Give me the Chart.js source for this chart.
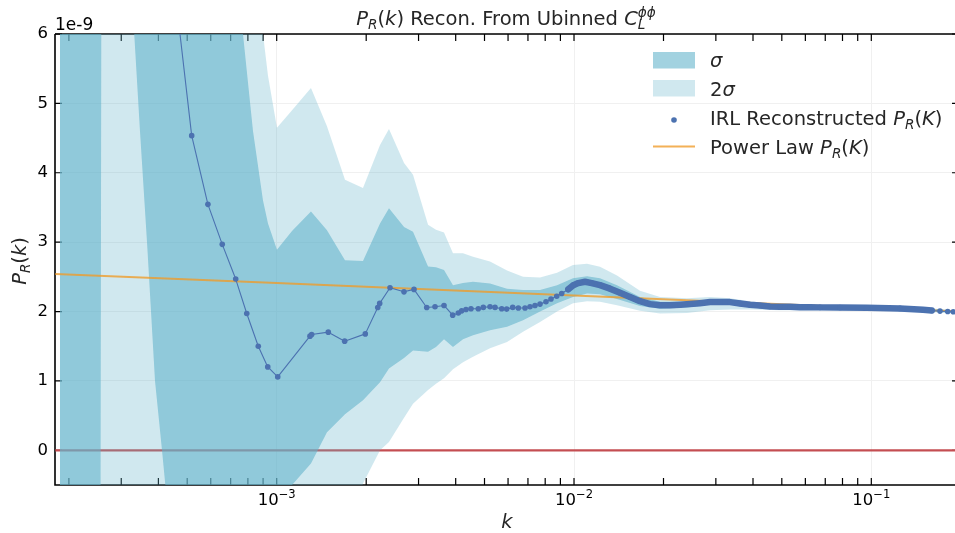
<!DOCTYPE html>
<html>
<head>
<meta charset="utf-8">
<script src="https://cdn.jsdelivr.net/npm/chart.js@4.4.0/dist/chart.umd.min.js"></script>
<style>
html,body{margin:0;padding:0;background:#fff;}
#wrap{width:955px;height:533px;}
</style>
</head>
<body>
<div id="wrap"><canvas id="Grafico1" width="955" height="533"></canvas></div>
<script>
// valores en unidades de 1e-9
const kRecon = [1.867e-4, 2.429e-4, 3.088e-4, 3.81e-4, 4.50e-4,
    5.177e-4, 5.87e-4, 6.56e-4, 7.28e-4, 7.93e-4, 8.67e-4, 9.33e-4, 1.008e-3,
    1.294e-3, 1.311e-3, 1.491e-3, 1.693e-3, 1.986e-3, 2.187e-3, 2.22e-3, 2.405e-3,
    2.68e-3, 2.896e-3, 3.196e-3, 3.408e-3, 3.654e-3, 3.908e-3, 4.082e-3, 4.19e-3,
    4.332e-3, 4.503e-3, 4.765e-3, 4.953e-3, 5.218e-3, 5.424e-3, 5.712e-3, 5.937e-3,
    6.22e-3, 6.497e-3, 6.843e-3, 7.112e-3, 7.393e-3, 7.687e-3, 8.05e-3, 8.368e-3,
    8.746e-3, 9.09e-3, 9.568e-3, 9.945e-3, 1.034e-2, 1.089e-2, 1.147e-2, 1.223e-2,
    1.322e-2, 1.428e-2, 1.543e-2, 1.667e-2, 1.801e-2, 1.947e-2, 2.103e-2, 2.273e-2,
    2.456e-2, 2.653e-2, 2.868e-2, 3.098e-2, 3.347e-2, 3.617e-2, 3.908e-2, 4.223e-2,
    4.563e-2, 4.93e-2, 5.33e-2, 5.757e-2, 6.22e-2, 6.722e-2, 7.85e-2, 9.65e-2,
    0.1249, 0.1493, 0.1597, 0.1702, 0.1807, 0.1887, 0.197];
const pRecon = [45, 30, 22, 14, 6.8,
    4.535, 3.545, 2.968, 2.468, 1.972, 1.50, 1.202, 1.058,
    1.645, 1.67, 1.703, 1.573, 1.678, 2.059, 2.117, 2.342,
    2.284, 2.319, 2.059, 2.068, 2.088, 1.948, 1.98, 2.01,
    2.03, 2.04, 2.04, 2.06, 2.068, 2.06, 2.04, 2.035,
    2.06, 2.05, 2.05, 2.068, 2.088, 2.107, 2.14, 2.18,
    2.22, 2.26, 2.32, 2.38, 2.41, 2.43, 2.41, 2.38,
    2.33, 2.27, 2.21, 2.15, 2.107, 2.09, 2.09, 2.097,
    2.107, 2.12, 2.136, 2.136, 2.136, 2.117, 2.097, 2.088,
    2.073, 2.068, 2.068, 2.063, 2.063, 2.06, 2.058, 2.054,
    2.045, 2.025, 2.016, 2.006, 2.0, 1.996, 1.99];

const kBand = [1.867e-4, 2.429e-4, 3.088e-4, 3.286e-4, 3.469e-4, 3.663e-4, 3.897e-4, 4.114e-4,
    4.376e-4, 5.109e-4, 5.965e-4, 6.966e-4, 7.701e-4, 8.325e-4, 8.993e-4, 9.348e-4,
    1.002e-3, 1.126e-3, 1.304e-3, 1.476e-3, 1.697e-3, 1.951e-3, 2.226e-3, 2.386e-3,
    2.681e-3, 2.874e-3, 3.229e-3, 3.434e-3, 3.654e-3, 3.917e-3, 4.233e-3, 4.574e-3,
    5.218e-3, 5.953e-3, 6.738e-3, 7.687e-3, 8.768e-3, 9.923e-3, 1.106e-2, 1.223e-2,
    1.395e-2, 1.667e-2, 1.947e-2, 2.399e-2, 2.868e-2, 3.347e-2, 4.0e-2, 4.93e-2,
    6.722e-2, 9.9e-2, 0.1249, 0.16, 0.1912];
const sig2Hi = [50, 60, 60, 60, 55, 50, 45, 40,
    35, 28, 22, 17, 13, 9.5, 6.0, 5.4,
    4.65, 4.9, 5.22, 4.67, 3.90, 3.78, 4.40, 4.63,
    4.14, 3.97, 3.25, 3.18, 3.14, 2.84, 2.84, 2.79,
    2.72, 2.59, 2.50, 2.49, 2.56, 2.67, 2.69, 2.645,
    2.52, 2.30, 2.21, 2.19, 2.21, 2.19, 2.14, 2.11,
    2.095, 2.085, 2.075, 2.045, 2.02];
const sig2Lo = [-50, -60, -60, -50, -45, -40, -35, -30,
    -25, -18, -14, -10, -8, -7, -6, -5.5,
    -5, -4, -3, -2.2, -1.4, -0.48, 0.0, 0.12,
    0.47, 0.67, 0.87, 0.96, 1.04, 1.17, 1.27, 1.35,
    1.47, 1.56, 1.71, 1.85, 2.0, 2.12, 2.15, 2.14,
    2.09, 2.01, 1.97, 1.98, 2.02, 2.03, 2.03, 2.02,
    2.02, 2.015, 2.005, 1.99, 1.97];
const sig1Hi = [80, 80, 300, 200, 150, 100, 60, 40,
    30, 18, 12, 8, 6.0, 4.6, 3.6, 3.27,
    2.89, 3.16, 3.44, 3.17, 2.74, 2.73, 3.27, 3.49,
    3.22, 3.15, 2.65, 2.64, 2.60, 2.38, 2.41, 2.43,
    2.405, 2.33, 2.31, 2.31, 2.38, 2.48, 2.51, 2.48,
    2.38, 2.21, 2.14, 2.14, 2.17, 2.17, 2.13, 2.095,
    2.085, 2.075, 2.065, 2.035, 2.01];
const sig1Lo = [-20, -60, 220, 6.3, 4.6, 3.0, 1.0, 0.0,
    -1.2, -4, -5, -5, -4.5, -4, -3.2, -2.8,
    -2.2, -0.5, -0.19, 0.26, 0.52, 0.72, 0.98, 1.18,
    1.33, 1.44, 1.42, 1.49, 1.60, 1.49, 1.60, 1.66,
    1.73, 1.78, 1.876, 2.0, 2.12, 2.21, 2.26, 2.25,
    2.18, 2.08, 2.04, 2.06, 2.10, 2.10, 2.07, 2.045,
    2.035, 2.03, 2.02, 2.0, 1.98];

const kPow = [1.8e-4, 1e-3, 1e-2, 1e-1, 0.2];
const pPow = [2.54, 2.41, 2.23, 2.05, 2.0];
const kCero = [1.8e-4, 0.2];
const pCero = [0, 0];

const xTicks = [1e-3, 1e-2, 1e-1];
const yTicks = [0, 1, 2, 3, 4, 5, 6];

const azul = '#4c72b0';
const naranja = 'rgba(240,155,40,0.78)';
const rojo = '#c44e52';
const banda1 = 'rgba(100,180,203,0.6)';
const banda2 = 'rgba(100,180,203,0.3)';
const fuente = '"DejaVu Sans"';

function puntos(ks, vs){
    return ks.map((k, i) => ({x: k, y: vs[i]}));
}

function textoRico(ctx, partes, x, y, tam, alinear, color){
    let piezas = partes.map(p => {
        const esc = (p.sub || p.sup) ? 0.7 : 1;
        const f = (p.i ? 'italic ' : '') + (tam * esc) + 'px ' + fuente;
        ctx.font = f;
        return {t: p.t, f: f, w: ctx.measureText(p.t).width, mismo: p.mismo,
            dy: p.sub ? tam * 0.22 : (p.sup ? -tam * 0.42 : 0)};
    });
    let pos = 0, inicio = 0;
    piezas.forEach(p => {
        if (p.mismo){ p.x = inicio; pos = Math.max(pos, inicio + p.w); }
        else { p.x = pos; inicio = pos; pos += p.w; }
    });
    let x0 = alinear === 'center' ? x - pos / 2 : (alinear === 'right' ? x - pos : x);
    ctx.fillStyle = color;
    ctx.textAlign = 'left';
    ctx.textBaseline = 'alphabetic';
    piezas.forEach(p => { ctx.font = p.f; ctx.fillText(p.t, x0 + p.x, y + p.dy); });
}

const ejes = {
    id: 'ejes',
    beforeDatasetsDraw(chart){
        const ctx = chart.ctx, ca = chart.chartArea;
        const sx = chart.scales.x, sy = chart.scales.y;
        ctx.save();
        ctx.strokeStyle = '#000';
        ctx.lineWidth = 1.6;
        ctx.beginPath();
        ctx.moveTo(ca.left, ca.top); ctx.lineTo(ca.left, ca.bottom);
        ctx.lineTo(ca.right, ca.bottom);
        ctx.moveTo(ca.left, ca.top); ctx.lineTo(ca.right, ca.top);
        ctx.stroke();
        ctx.lineWidth = 1.2;
        ctx.beginPath();
        for (let e = -4; e <= -1; e++){
            for (let m = 1; m <= 9; m++){
                const v = m * Math.pow(10, e);
                if (v < sx.min || v > sx.max) continue;
                const px = sx.getPixelForValue(v);
                ctx.moveTo(px, ca.bottom); ctx.lineTo(px, ca.bottom - 7);
                ctx.moveTo(px, ca.top); ctx.lineTo(px, ca.top + 7);
            }
        }
        yTicks.forEach(v => {
            const py = sy.getPixelForValue(v);
            ctx.moveTo(ca.left, py); ctx.lineTo(ca.left + 7, py);
            ctx.moveTo(ca.right, py); ctx.lineTo(ca.right - 3, py);
        });
        ctx.stroke();
        ctx.restore();
    },
    afterDraw(chart){
        const ctx = chart.ctx, ca = chart.chartArea;
        const sx = chart.scales.x;
        ctx.save();
        // etiquetas del eje x
        xTicks.forEach(v => {
            const e = Math.round(Math.log10(v));
            textoRico(ctx, [{t: '10'}, {t: '\u2212' + Math.abs(e), sup: true}],
                sx.getPixelForValue(v), 505, 16.5, 'center', '#000');
        });
        textoRico(ctx, [{t: '1e-9'}], ca.left, 30, 17, 'left', '#000');
        textoRico(ctx, [{t: 'P', i: true}, {t: 'R', i: true, sub: true}, {t: '('}, {t: 'k', i: true}, {t: ')'},
            {t: ' Recon. From Ubinned '}, {t: 'C', i: true}, {t: 'L', i: true, sub: true},
            {t: '\u03d5\u03d5', i: true, sup: true, mismo: true}],
            506, 25, 19.5, 'center', '#262626');
        textoRico(ctx, [{t: 'k', i: true}], 507, 528, 19.5, 'center', '#262626');
        ctx.save();
        ctx.translate(25.5, 261);
        ctx.rotate(-Math.PI / 2);
        textoRico(ctx, [{t: 'P', i: true}, {t: 'R', i: true, sub: true}, {t: '('}, {t: 'k', i: true}, {t: ')'}],
            0, 0, 19.5, 'center', '#262626');
        ctx.restore();

        // leyenda
        const lx = 653, lw = 42, tx = 710;
        ctx.fillStyle = banda1;
        ctx.fillRect(lx, 52, lw, 16.5);
        ctx.fillStyle = banda2;
        ctx.fillRect(lx, 80, lw, 16.5);
        ctx.fillStyle = azul;
        ctx.beginPath(); ctx.arc(lx + lw / 2, 120, 2.8, 0, Math.PI * 2); ctx.fill();
        ctx.strokeStyle = naranja; ctx.lineWidth = 2;
        ctx.beginPath(); ctx.moveTo(lx, 146.5); ctx.lineTo(lx + lw, 146.5); ctx.stroke();
        const pr = [{t: 'P', i: true}, {t: 'R', i: true, sub: true}, {t: '('}, {t: 'K', i: true}, {t: ')'}];
        textoRico(ctx, [{t: '\u03c3', i: true}], tx, 67, 19.5, 'left', '#262626');
        textoRico(ctx, [{t: '2'}, {t: '\u03c3', i: true}], tx, 96, 19.5, 'left', '#262626');
        textoRico(ctx, [{t: 'IRL Reconstructed '}].concat(pr), tx, 125, 19.5, 'left', '#262626');
        textoRico(ctx, [{t: 'Power Law '}].concat(pr), tx, 153.5, 19.5, 'left', '#262626');
        ctx.restore();
    }
};

let CanvasG1 = document.getElementById('Grafico1').getContext('2d');
let datos = {
    datasets: [
        {
            label: 'IRL Reconstructed',
            data: puntos(kRecon, pRecon),
            borderColor: azul,
            backgroundColor: azul,
            borderWidth: 1.1,
            borderCapStyle: 'round',
            borderJoinStyle: 'round',
            pointRadius: 2.8,
            pointBorderWidth: 0,
            pointHoverRadius: 2.8,
            fill: false,
            order: 0,
            segment: {
                borderWidth: c => (c.p0.parsed.x >= 9.5e-3 && c.p1.parsed.x <= 0.16) ? 6.5 : 1.1
            }
        },
        {
            label: 'Power Law',
            data: puntos(kPow, pPow),
            borderColor: naranja,
            borderWidth: 2,
            pointRadius: 0,
            fill: false,
            order: 1
        },
        {
            label: 'sigma',
            data: puntos(kBand, sig1Hi),
            borderColor: 'rgba(0,0,0,0)',
            backgroundColor: banda1,
            borderWidth: 0,
            pointRadius: 0,
            fill: '+1',
            order: 2
        },
        {
            label: 'sigma inf',
            data: puntos(kBand, sig1Lo),
            borderColor: 'rgba(0,0,0,0)',
            borderWidth: 0,
            pointRadius: 0,
            fill: false,
            order: 2
        },
        {
            label: '2sigma',
            data: puntos(kBand, sig2Hi),
            borderColor: 'rgba(0,0,0,0)',
            backgroundColor: banda2,
            borderWidth: 0,
            pointRadius: 0,
            fill: '+1',
            order: 3
        },
        {
            label: '2sigma inf',
            data: puntos(kBand, sig2Lo),
            borderColor: 'rgba(0,0,0,0)',
            borderWidth: 0,
            pointRadius: 0,
            fill: false,
            order: 3
        },
        {
            label: 'cero',
            data: puntos(kCero, pCero),
            borderColor: rojo,
            borderWidth: 2.2,
            pointRadius: 0,
            fill: false,
            order: 4
        }
    ]
};
let opciones = {
    responsive: false,
    animation: false,
    devicePixelRatio: 1,
    layout: {autoPadding: false, padding: {top: 34, right: 0, bottom: 0, left: 0}},
    plugins: {legend: {display: false}, tooltip: {enabled: false}},
    elements: {line: {tension: 0}},
    scales: {
        x: {
            type: 'logarithmic',
            min: 1.796e-4,
            max: 0.1912,
            afterBuildTicks: s => { s.ticks = xTicks.map(v => ({value: v})); },
            afterFit: s => { s.height = 48; },
            ticks: {display: false},
            grid: {color: '#f0f0f0', lineWidth: 1, drawTicks: false},
            border: {display: false}
        },
        y: {
            type: 'linear',
            min: -0.5,
            max: 6,
            afterBuildTicks: s => { s.ticks = yTicks.map(v => ({value: v})); },
            afterFit: s => { s.width = 55; },
            ticks: {
                font: {family: 'DejaVu Sans', size: 16.5},
                color: '#000',
                padding: 7,
                callback: v => String(v)
            },
            grid: {color: '#f0f0f0', lineWidth: 1, drawTicks: false},
            border: {display: false}
        }
    }
};
let G1 = new Chart(CanvasG1, {
    type: 'line',
    data: datos,
    options: opciones,
    plugins: [ejes]
});
</script>
</body>
</html>
